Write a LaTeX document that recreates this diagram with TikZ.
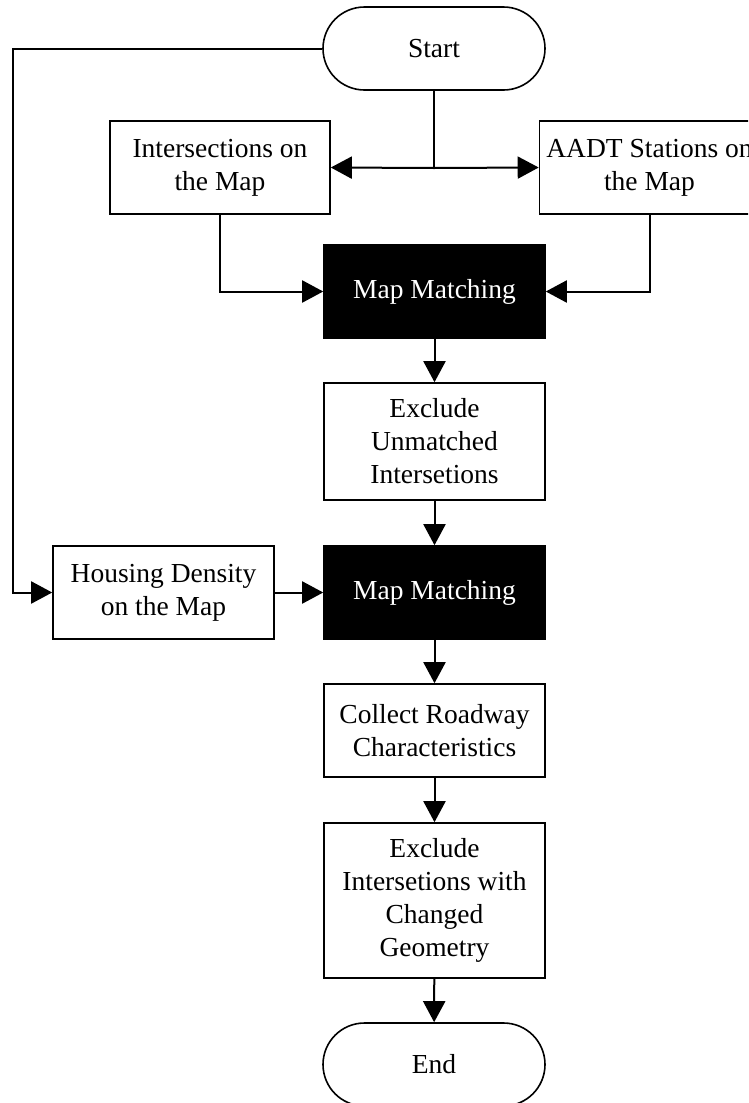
\documentclass[tikz,border=0pt]{standalone}
\usepackage{fontspec}
\setmainfont{Liberation Serif}
\usetikzlibrary{arrows.meta,shapes.misc}
\begin{document}
\begin{tikzpicture}[x=1pt,y=-1pt,
  box/.style={draw=black,line width=1.6pt,fill=white,rectangle,inner sep=0pt,
    minimum width=221pt,minimum height=93pt,align=center,
    font=\fontsize{27.5}{33}\selectfont},
  darkbox/.style={box,fill=black,text=white},
  pill/.style={box,rounded rectangle,minimum width=222pt,minimum height=83pt},
  arr/.style={line width=2pt,-{Triangle[length=21pt,width=22pt]}},
  con/.style={line width=2pt}]
\useasboundingbox (0,0) rectangle (748,1103);
\clip (0,0) rectangle (748,1103);
\node[pill] (start) at (434,48.5) {Start};
\node[box,minimum width=220pt] (inter) at (220,167.5) {Intersections on\\the Map};
\node[box,minimum width=220pt] (aadt) at (649.5,167.5) {AADT Stations on\\the Map};
\node[darkbox] (mm1) at (434.5,291.5) {Map Matching};
\node[box,minimum height=117pt] (excl1) at (434.5,441.5) {Exclude\\Unmatched\\Intersetions};
\node[darkbox] (mm2) at (434.5,592.5) {Map Matching};
\node[box] (house) at (163.5,592.5) {Housing Density\\on the Map};
\node[box] (collect) at (434.5,730.5) {Collect Roadway\\Characteristics};
\node[box,minimum height=155pt] (excl2) at (434.5,900.5) {Exclude\\Intersetions with\\Changed\\Geometry};
\node[pill] (end) at (434,1064.5) {End};
\coordinate (junc) at (434,168);
\coordinate (lc) at (13,592.5);
\draw[con] (start.south) -- (junc);
\draw[arr] (junc) -- (inter.east);
\draw[arr] (junc) -- (aadt.west);
\draw[arr] (inter.south) |- (mm1.west);
\draw[arr] (aadt.south) |- (mm1.east);
\draw[arr] (mm1) -- (excl1);
\draw[arr] (excl1) -- (mm2);
\draw[arr] (start.west) -| (lc) -- (house.west);
\draw[arr] (house) -- (mm2);
\draw[arr] (mm2) -- (collect);
\draw[arr] (collect) -- (excl2);
\draw[arr] (excl2) -- (end);
\end{tikzpicture}
\end{document}
